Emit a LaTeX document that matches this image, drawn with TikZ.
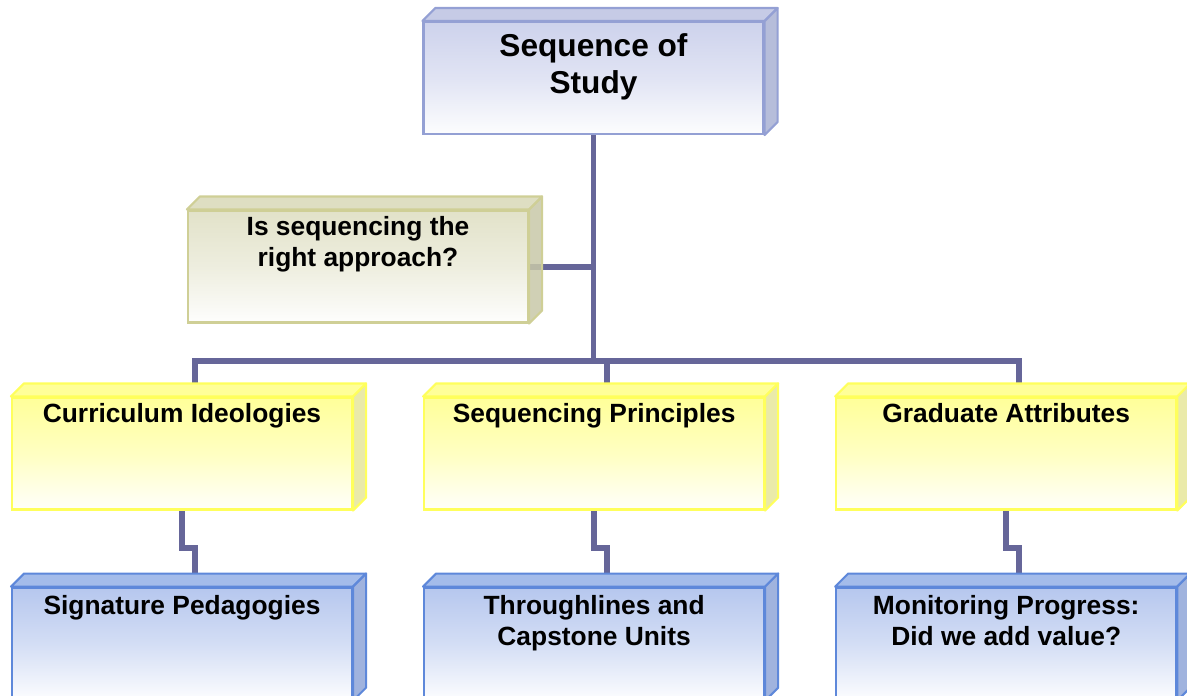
\documentclass[tikz,border=0pt]{standalone}
\usepackage{fontspec}
\setmainfont{Liberation Sans}
\usetikzlibrary{calc,positioning,backgrounds}
\definecolor{Link}{HTML}{666699}
\definecolor{SeqTop}{HTML}{C6CBE6}
\definecolor{SeqFront}{HTML}{CDD2EC}
\definecolor{SeqSide}{HTML}{A9B1D3}
\definecolor{SeqEdge}{HTML}{94A0D4}
\definecolor{AskTop}{HTML}{DEDEC2}
\definecolor{AskFront}{HTML}{E2E2C9}
\definecolor{AskSide}{HTML}{C8C8A8}
\definecolor{AskEdge}{HTML}{CFCF96}
\definecolor{IdeaTop}{HTML}{FFFF99}
\definecolor{IdeaFront}{HTML}{FFFF99}
\definecolor{IdeaSide}{HTML}{E6E69A}
\definecolor{IdeaEdge}{HTML}{FFFF5C}
\definecolor{PlanTop}{HTML}{A4BCEA}
\definecolor{PlanFront}{HTML}{B6C7EE}
\definecolor{PlanSide}{HTML}{8FA6D8}
\definecolor{PlanEdge}{HTML}{5E88DA}
\newcommand{\slabdepth}{0.26}
% top and side faces of a box node, plus its (name-top) coordinate
\newcommand{\slab}[2]{%
  \filldraw[draw=#2Edge,fill=#2Top,line width=1.2pt,line join=round]
    (#1.north west) -- ++(\slabdepth,\slabdepth)
    -- ($(#1.north east)+(\slabdepth,\slabdepth)$) -- (#1.north east) -- cycle;
  \filldraw[draw=#2Edge,fill=#2Side,fill opacity=0.85,line width=1.2pt,line join=round]
    (#1.north east) -- ++(\slabdepth,\slabdepth)
    -- ($(#1.south east)+(\slabdepth,\slabdepth)$) -- (#1.south east) -- cycle;
  \coordinate (#1-top) at ($(#1.north)+(\slabdepth,\slabdepth)$);
}
\tikzset{
  link/.style={draw=Link,line width=3.4pt},
  slab/.style={draw=#1Edge,line width=1.2pt,minimum width=6.8cm,minimum height=2.24cm,
    inner sep=0pt,top color=#1Front,bottom color=#1Front!4!white,middle color=#1Front!60!white},
  txt/.style={anchor=north,inner sep=0pt,align=center,font=\bfseries\fontsize{15}{18}\selectfont},
  bigtxt/.style={txt,font=\bfseries\fontsize{18}{21}\selectfont},
}

\begin{document}
\begin{tikzpicture}
  \clip (0,0) rectangle (23.74,-13.9);
  \node[slab=Seq] (seq) at (11.87,-1.56) {};
  \node[slab=Ask] (ask) at (7.16,-5.33) {};
  \node[slab=Idea] (ci) at (3.64,-9.07) {};
  \node[slab=Idea,right=1.40cm of ci] (sp) {};
  \node[slab=Idea,right=1.40cm of sp] (gr) {};
  \node[slab=Plan,below=1.52cm of ci] (sg) {};
  \node[slab=Plan,below=1.52cm of sp] (tc) {};
  \node[slab=Plan,below=1.52cm of gr] (mp) {};

  \node[bigtxt] (seq-t) at ($(seq.north)+(0,-0.24)$) {Sequence of\\Study};
  \node[txt,font=\bfseries\fontsize{15}{17.5}\selectfont] (ask-t) at ($(ask.north)+(0,-0.14)$) {Is sequencing the\\ right approach?};
  \node[txt] (ci-t) at ($(ci.north)+(0,-0.14)$) {Curriculum Ideologies};
  \node[txt] (sp-t) at ($(sp.north)+(0,-0.14)$) {Sequencing Principles};
  \node[txt] (gr-t) at ($(gr.north)+(0,-0.14)$) {Graduate Attributes};
  \node[txt] (sg-t) at ($(sg.north)+(0,-0.16)$) {Signature Pedagogies};
  \node[txt] (tc-t) at ($(tc.north)+(0,-0.16)$) {Throughlines and\\Capstone Units};
  \node[txt] (mp-t) at ($(mp.north)+(0,-0.16)$) {Monitoring Progress:\\Did we add value?};

  \slab{seq}{Seq}
  \slab{ask}{Ask}
  \foreach \b in {ci,sp,gr} {\slab{\b}{Idea}}
  \foreach \b in {sg,tc,mp} {\slab{\b}{Plan}}

  % tree lines behind the boxes
  \begin{scope}[on background layer]
    \coordinate (hub) at ($(seq.south)+(0,-4.52)$);
    \draw[link] (seq.south) -- (hub);
    \draw[link] (ask.east) -- (ask.east -| seq.south);
    \draw[link] (ci-top) |- (hub) -| (gr-top);
    \draw[link] (sp-top) -- (sp-top |- hub);
    \foreach \a/\b in {ci/sg,sp/tc,gr/mp}
      \draw[link] (\a.south) |- ($(\a.south)!0.6!(\b-top)$) -| (\b-top);
  \end{scope}
\end{tikzpicture}
\end{document}
